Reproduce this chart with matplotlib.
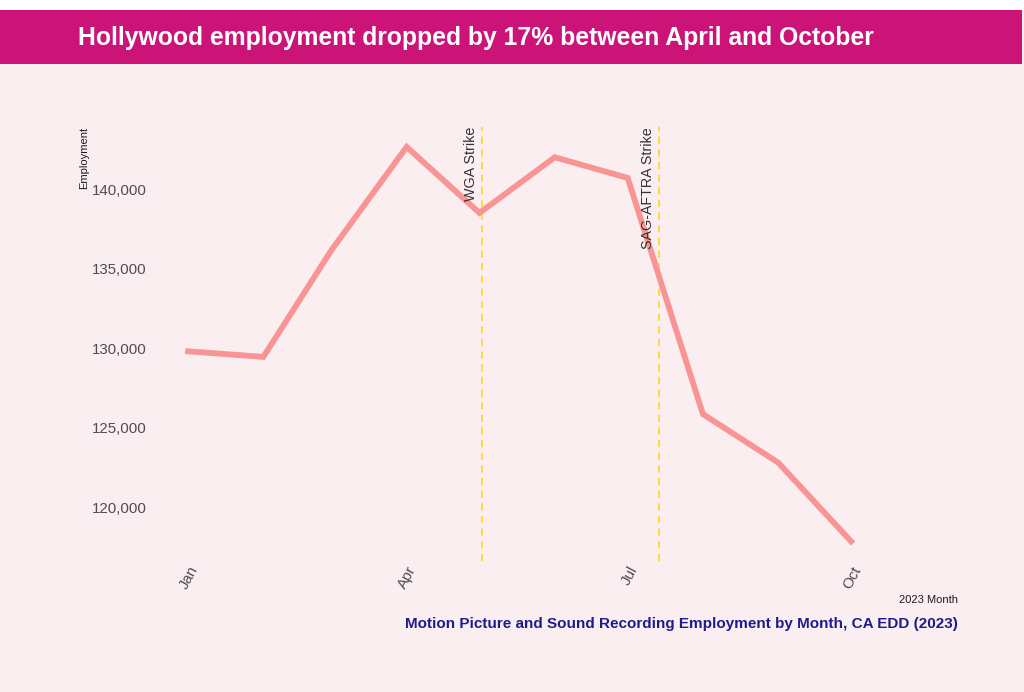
import datetime as dt

import matplotlib

matplotlib.use("Agg")
import matplotlib.dates as mdates
import matplotlib.pyplot as plt
from matplotlib.patches import Rectangle
from matplotlib.ticker import FuncFormatter

plt.rcParams["font.family"] = ["Liberation Sans", "DejaVu Sans"]

# monthly employment, 2023
months = ["2023-01-01", "2023-02-01", "2023-03-01", "2023-04-01", "2023-05-01",
          "2023-06-01", "2023-07-01", "2023-08-01", "2023-09-01", "2023-10-01"]
employment = [129800, 129450, 136150, 142650, 138500,
              142000, 140700, 125850, 122800, 117850]

strike_dates = ["2023-05-02", "2023-07-14"]
strike_labels = ["WGA Strike", "SAG-AFTRA Strike"]

tick_dates = ["2023-01-01", "2023-04-01", "2023-07-01", "2023-10-01"]
tick_labels = ["Jan", "Apr", "Jul", "Oct"]
y_ticks = [120000, 125000, 130000, 135000, 140000]

bg = "#fbeef1"
banner = "#cc1478"

to_date = lambda s: dt.datetime.strptime(s, "%Y-%m-%d")

fig = plt.figure(figsize=(10.24, 6.92), dpi=100, facecolor=bg)
fig.patches.append(Rectangle((0, 1 - 10 / 692), 1, 10 / 692, transform=fig.transFigure,
                             facecolor="white", edgecolor="none", zorder=0))
fig.patches.append(Rectangle((0, 1 - 64 / 692), 1022 / 1024, 54 / 692, transform=fig.transFigure,
                             facecolor=banner, edgecolor="none", zorder=1))
fig.text(78 / 1024, 1 - 38 / 692, "Hollywood employment dropped by 17% between April and October",
         color="white", fontsize=17.8, fontweight="bold", va="center", ha="left")

ax = fig.add_axes([155 / 1024, 1 - 561 / 692, (958 - 155) / 1024, (561 - 127) / 692])
ax.set_facecolor(bg)
for s in ax.spines.values():
    s.set_visible(False)

x = [to_date(m) for m in months]
ax.plot(x, employment, color="#f89493", linewidth=4.2, solid_joinstyle="miter", zorder=3)

ymin, ymax = 116620, 143900
for d, lab in zip(strike_dates, strike_labels):
    xd = to_date(d)
    ax.axvline(xd, color="#ffd633", linestyle=(0, (4, 3)), linewidth=1.3, zorder=2)
    ax.text(mdates.date2num(xd) - 1.6, ymax, lab, rotation=90, ha="right", va="top",
            color="#333333", fontsize=10.3, zorder=4)

ax.set_xlim(to_date("2023-01-01") - dt.timedelta(days=13.6), to_date("2023-01-01") + dt.timedelta(days=317))
ax.set_ylim(ymin, ymax)
ax.set_xticks([to_date(t) for t in tick_dates])
ax.set_xticklabels(tick_labels, rotation=62, ha="right", va="top", rotation_mode="anchor")
ax.set_yticks(y_ticks)
ax.yaxis.set_major_formatter(FuncFormatter(lambda v, p: f"{int(v):,}"))
ax.tick_params(axis="both", length=0, labelsize=10.8, labelcolor="#4d4d4d")
ax.tick_params(axis="x", pad=2)
ax.tick_params(axis="y", pad=6)

fig.text(84 / 1024, 1 - 127 / 692, "Employment", rotation=90, ha="center", va="top",
         fontsize=8, color="#1a1a1a")
fig.text(958 / 1024, 1 - 600 / 692, "2023 Month", ha="right", va="center",
         fontsize=8, color="#1a1a1a")
fig.text(958 / 1024, 1 - 624 / 692,
         "Motion Picture and Sound Recording Employment by Month, CA EDD (2023)",
         ha="right", va="center", fontsize=11, fontweight="bold", color="#1c1c8c")

fig.savefig("out.png", dpi=100, facecolor=bg)
